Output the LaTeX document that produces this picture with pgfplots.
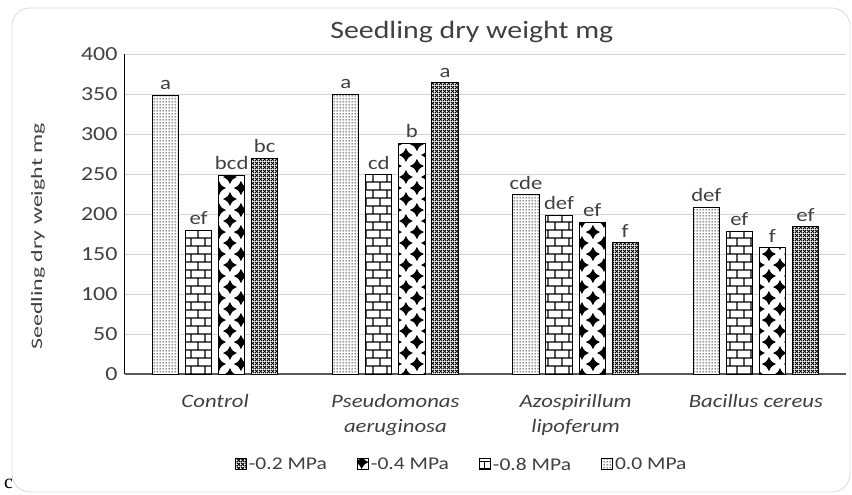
\documentclass[border=0pt]{standalone}
\usepackage{pgfplots}
\pgfplotsset{compat=1.18}
\usepackage{fontspec}
\setmainfont{Carlito}[FakeStretch=1.2]
\newfontfamily\seriffont{Liberation Serif}
\usetikzlibrary{patterns,patterns.meta}

\pgfdeclarepattern{
  name=fdots, type=uncolored,
  bottom left={\pgfpoint{0pt}{0pt}}, top right={\pgfpoint{2.6pt}{2.6pt}},
  tile size={\pgfpoint{2.6pt}{2.6pt}},
  code={\pgfpathrectangle{\pgfpoint{0.6pt}{0.6pt}}{\pgfpoint{1.2pt}{1.2pt}}\pgfusepath{fill}}
}
\pgfdeclarepattern{
  name=mybricks, type=uncolored,
  bottom left={\pgfpoint{0pt}{0pt}}, top right={\pgfpoint{14pt}{16pt}},
  tile size={\pgfpoint{14pt}{16pt}},
  code={\pgfsetlinewidth{1.2pt}
    \pgfpathmoveto{\pgfpoint{0pt}{2pt}}\pgfpathlineto{\pgfpoint{14pt}{2pt}}
    \pgfpathmoveto{\pgfpoint{0pt}{10pt}}\pgfpathlineto{\pgfpoint{14pt}{10pt}}
    \pgfpathmoveto{\pgfpoint{3pt}{2pt}}\pgfpathlineto{\pgfpoint{3pt}{10pt}}
    \pgfpathmoveto{\pgfpoint{10pt}{10pt}}\pgfpathlineto{\pgfpoint{10pt}{16pt}}
    \pgfpathmoveto{\pgfpoint{10pt}{0pt}}\pgfpathlineto{\pgfpoint{10pt}{2pt}}
    \pgfusepath{stroke}}
}
\pgfdeclarepattern{
  name=mydiamonds, type=uncolored,
  bottom left={\pgfpoint{0pt}{0pt}}, top right={\pgfpoint{22pt}{22pt}},
  tile size={\pgfpoint{22pt}{22pt}},
  code={
    \foreach \cx/\cy in {0/0,22/0,0/22,22/22,11/11}{
      \pgfpathmoveto{\pgfpoint{\cx pt-7pt}{\cy pt}}
      \pgfpathcurveto{\pgfpoint{\cx pt-2.3pt}{\cy pt+2.3pt}}{\pgfpoint{\cx pt-2.3pt}{\cy pt+2.3pt}}{\pgfpoint{\cx pt}{\cy pt+7pt}}
      \pgfpathcurveto{\pgfpoint{\cx pt+2.3pt}{\cy pt+2.3pt}}{\pgfpoint{\cx pt+2.3pt}{\cy pt+2.3pt}}{\pgfpoint{\cx pt+7pt}{\cy pt}}
      \pgfpathcurveto{\pgfpoint{\cx pt+2.3pt}{\cy pt-2.3pt}}{\pgfpoint{\cx pt+2.3pt}{\cy pt-2.3pt}}{\pgfpoint{\cx pt}{\cy pt-7pt}}
      \pgfpathcurveto{\pgfpoint{\cx pt-2.3pt}{\cy pt-2.3pt}}{\pgfpoint{\cx pt-2.3pt}{\cy pt-2.3pt}}{\pgfpoint{\cx pt-7pt}{\cy pt}}
      \pgfpathclose
    }
    \pgfusepath{fill}}
}
\pgfdeclarepattern{
  name=mycross, type=uncolored,
  bottom left={\pgfpoint{0pt}{0pt}}, top right={\pgfpoint{3.6pt}{3.6pt}},
  tile size={\pgfpoint{3.6pt}{3.6pt}},
  code={\pgfsetlinewidth{1pt}
    \pgfpathmoveto{\pgfpoint{0pt}{0pt}}\pgfpathlineto{\pgfpoint{3.6pt}{3.6pt}}
    \pgfpathmoveto{\pgfpoint{0pt}{3.6pt}}\pgfpathlineto{\pgfpoint{3.6pt}{0pt}}
    \pgfusepath{stroke}}
}

\definecolor{txt}{HTML}{404040}

\begin{document}
\begin{tikzpicture}
\useasboundingbox (-125bp,-121bp) rectangle (727bp,374bp);
\draw[gray!30, line width=0.8bp, rounded corners=18bp] (-113bp,-118bp) rectangle (725bp,366bp);
\node[anchor=base west, font=\seriffont\fontsize{20}{20}\selectfont, inner sep=0pt] at (-121bp,-114bp) {c};
\begin{axis}[
  at={(0,0)}, anchor=south west,
  scale only axis, width=721bp, height=320bp,
  ybar, bar width=0.145,
  xmin=-0.5, xmax=3.5, ymin=0, ymax=400,
  ytick={0,50,...,400},
  xtick={0,1,2,3},
  xticklabels={Control, Pseudomonas\\aeruginosa, Azospirillum\\lipoferum, Bacillus cereus},
  xticklabel style={align=center, font=\itshape\fontsize{19}{25}\selectfont, text=txt, yshift=-17bp},
  yticklabel style={font=\fontsize{20}{20}\selectfont, text=txt, xshift=-4bp},
  /pgf/number format/assume math mode=true,
  major tick length=0pt,
  ymajorgrids, grid style={gray!35, line width=0.8bp},
  axis x line*=bottom, axis y line*=left,
  x axis line style={-, draw=gray!70!black, line width=1.2bp},
  y axis line style={-, draw=black, line width=1bp},
  title={Seedling dry weight mg},
  title style={at={(0.481,1)}, anchor=base, yshift=10bp, font=\fontsize{25}{25}\selectfont, text=txt},
  ylabel={\scalebox{1.25}[1]{Seedling dry weight mg}},
  ylabel style={at={(axis description cs:-0.1207,0.43)}, anchor=center, font=\fontsize{16}{16}\selectfont, text=txt},
  nodes near coords, point meta=explicit symbolic,
  nodes near coords style={font=\fontsize{19}{19}\selectfont, text=txt, anchor=south, inner sep=5bp},
  legend columns=4, reverse legend,
  legend style={at={(0.467,-0.284)}, anchor=center, draw=none, font=\fontsize{18}{18}\selectfont, text=txt,
    /tikz/every even column/.append style={column sep=28bp}},
  legend image code/.code={\draw[#1] (0bp,-5bp) rectangle (11bp,6bp);},
]
\addplot[draw=black, line width=1bp, fill=white, postaction={pattern={fdots}}, bar shift=-0.275]
  coordinates {(0,348) [a] (1,350) [a] (2,224) [cde] (3,208) [def]};
\addplot[draw=black, line width=1bp, fill=white, postaction={pattern={mybricks}}, bar shift=-0.092]
  coordinates {(0,180) [ef] (1,249) [cd] (2,198) [def] (3,178) [ef]};
\addplot[draw=black, line width=1bp, fill=white, postaction={pattern={mydiamonds}}, bar shift=0.092]
  coordinates {(0,248) [bcd] (1,288) [b] (2,190) [ef] (3,158) [f]};
\addplot[draw=black, line width=1bp, fill=white, postaction={pattern={mycross}}, bar shift=0.275]
  coordinates {(0,270) [bc] (1,364) [a] (2,164) [f] (3,184) [ef]};
\legend{0.0 MPa, -0.8 MPa, -0.4 MPa, -0.2 MPa}
\end{axis}
\end{tikzpicture}
\end{document}
